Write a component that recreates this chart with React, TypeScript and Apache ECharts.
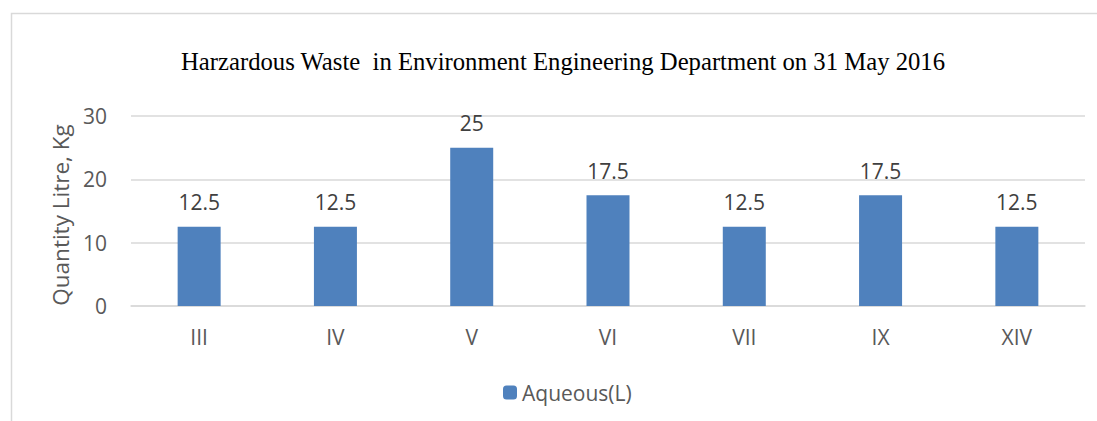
import React, { useEffect, useRef } from "react";
import * as echarts from "echarts";

const categories = ["III", "IV", "V", "VI", "VII", "IX", "XIV"];
const aqueous = [12.5, 12.5, 25, 17.5, 12.5, 17.5, 12.5];
const seriesName = "Aqueous(L)";
const titleText = "Harzardous Waste  in Environment Engineering Department on 31 May 2016";
const yAxisName = "Quantity Litre, Kg";

export default function App() {
  const ref = useRef<HTMLDivElement>(null);
  useEffect(() => {
    if (!ref.current) return;
    const chart = echarts.init(ref.current, null, { renderer: "svg" });
    const sans = "'Open Sans', 'Liberation Sans', sans-serif";
    chart.setOption({
      animation: false,
      backgroundColor: "#ffffff",
      title: {
        text: titleText,
        left: 558,
        textAlign: "center",
        top: 44,
        textStyle: { fontFamily: "'Liberation Serif', 'Times New Roman', serif", fontSize: 24.7, fontWeight: "normal", color: "#000000" },
      },
      graphic: [
        {
          type: "rect",
          shape: { x: 11.5, y: 13.5, width: 1100, height: 420 },
          style: { fill: "none", stroke: "#d9d9d9", lineWidth: 1.5 },
          silent: true,
        },
      ],
      legend: {
        data: [seriesName],
        left: 498,
        top: 377,
        itemWidth: 14,
        itemHeight: 14,
        itemGap: 10,
        textStyle: { fontFamily: sans, fontSize: 21, color: "#595959" },
      },
      grid: { left: 131, right: 12, top: 116, bottom: 115 },
      xAxis: {
        type: "category",
        data: categories,
        axisLine: { lineStyle: { color: "#d9d9d9", width: 1.5 } },
        axisTick: { show: false },
        axisLabel: { fontFamily: sans, fontSize: 21, color: "#595959", margin: 20 },
      },
      yAxis: {
        type: "value",
        min: 0,
        max: 30,
        interval: 10,
        name: yAxisName,
        nameLocation: "middle",
        nameGap: 57,
        nameTextStyle: { fontFamily: sans, fontSize: 22.5, color: "#595959", padding: [0, 8, 0, 0] },
        axisLine: { show: false },
        axisTick: { show: false },
        splitLine: { lineStyle: { color: "#d9d9d9", width: 1.5 } },
        axisLabel: { fontFamily: sans, fontSize: 21, color: "#595959", margin: 24 },
      },
      series: [
        {
          name: seriesName,
          type: "bar",
          data: aqueous,
          barWidth: 43,
          itemStyle: { color: "#4f81bd" },
          label: { show: true, position: "top", distance: 14, fontFamily: sans, fontSize: 21, color: "#404040" },
        },
      ],
    });
    return () => chart.dispose();
  }, []);
  return <div ref={ref} style={{ position: "fixed", left: 0, top: 0, width: 1097, height: 421 }} />;
}
